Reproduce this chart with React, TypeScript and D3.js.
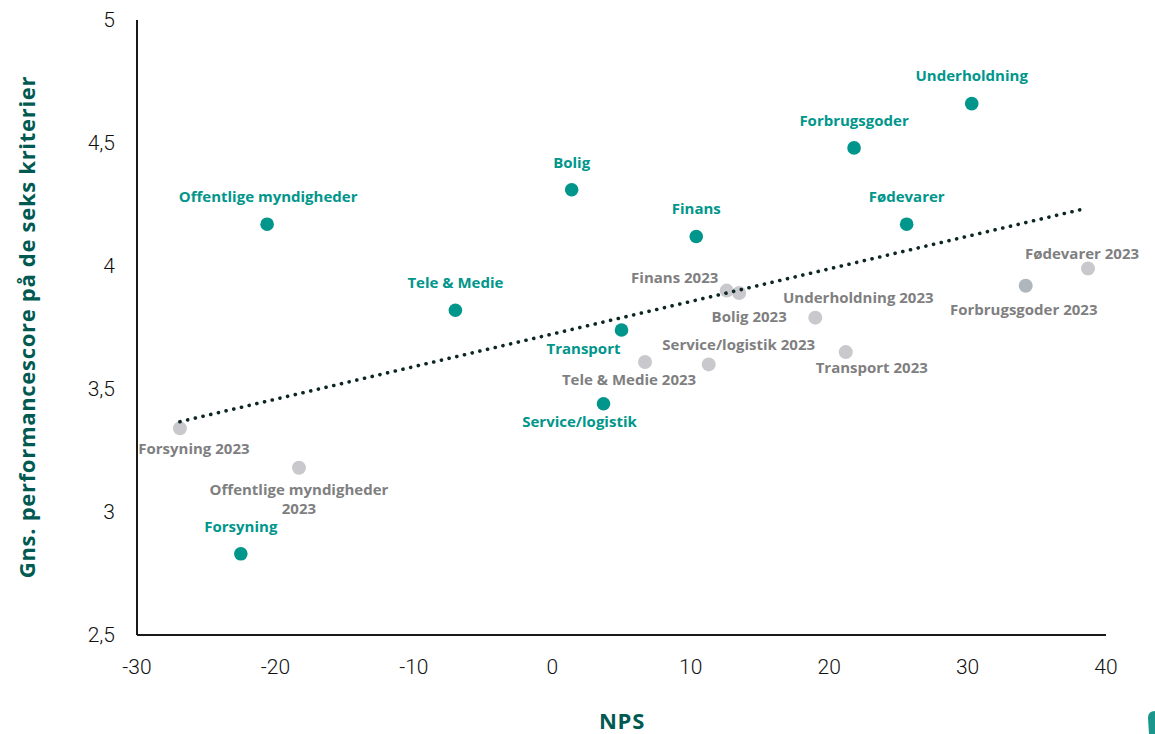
import React from "react";
import * as d3 from "d3";

// NPS vs average performance score, current year and 2023
const sectors = [
  "Offentlige myndigheder",
  "Bolig",
  "Finans",
  "Forbrugsgoder",
  "Underholdning",
  "Fødevarer",
  "Tele & Medie",
  "Transport",
  "Service/logistik",
  "Forsyning",
];
const npsNow = [-20.6, 1.4, 10.4, 21.8, 30.3, 25.6, -7.0, 5.0, 3.7, -22.5];
const scoreNow = [4.17, 4.31, 4.12, 4.48, 4.66, 4.17, 3.82, 3.74, 3.44, 2.83];

const sectors2023 = [
  "Forsyning 2023",
  "Offentlige myndigheder 2023",
  "Tele & Medie 2023",
  "Service/logistik 2023",
  "Finans 2023",
  "Bolig 2023",
  "Underholdning 2023",
  "Transport 2023",
  "Forbrugsgoder 2023",
  "Fødevarer 2023",
];
const nps2023 = [-26.9, -18.3, 6.7, 11.3, 12.6, 13.5, 19.0, 21.2, 34.2, 38.7];
const score2023 = [3.34, 3.18, 3.61, 3.6, 3.9, 3.89, 3.79, 3.65, 3.92, 3.99];

// Linear trend line end points [nps, score]
const trendPoints: [number, number][] = [
  [-26.9, 3.367],
  [38.4, 4.232],
];

const xTicks = [-30, -20, -10, 0, 10, 20, 30, 40];
const yTicks = [2.5, 3, 3.5, 4, 4.5, 5];

// Label placement relative to each dot (dx, dy of the text centre baseline)
const labelOffsetsNow: [number, number][] = [
  [1, -22],
  [0, -22],
  [0, -22],
  [0, -22],
  [0, -23],
  [0, -22],
  [0, -22],
  [-38, 24],
  [-24, 23],
  [0, -22],
];
const labelOffsets2023: [string[], number, number][] = [
  [["Forsyning 2023"], 14, 26],
  [["Offentlige myndigheder", "2023"], 0, 27],
  [["Tele & Medie 2023"], -16, 23],
  [["Service/logistik 2023"], 30, -14],
  [["Finans 2023"], -52, -8],
  [["Bolig 2023"], 10, 29],
  [["Underholdning 2023"], 43, -15],
  [["Transport 2023"], 26, 21],
  [["Forbrugsgoder 2023"], -2, 29],
  [["Fødevarer 2023"], -6, -9],
];

const W = 1155;
const H = 734;
const left = 137;
const right = 1106;
const top = 20;
const bottom = 635;

const TEAL = "#00968b";
const DARK_TEAL = "#005a52";
const GREY_DOT = "#c9c8cd";
const GREY_TEXT = "#7f7f81";
const LABEL_FONT = "'Open Sans', Lato, sans-serif";
const TICK_FONT = "Roboto, 'DejaVu Sans', sans-serif";

export default function App() {
  const x = d3.scaleLinear().domain([-30, 40]).range([left, right]);
  const y = d3.scaleLinear().domain([2.5, 5]).range([bottom, top]);
  const fmt = (v: number) => String(v).replace(".", ",");
  const trendPath = d3
    .line<[number, number]>()
    .x((d) => x(d[0]))
    .y((d) => y(d[1]))(trendPoints);

  return (
    <svg
      width={W}
      height={H}
      style={{ position: "absolute", left: 0, top: 0, background: "#fff" }}
    >
      {/* axes */}
      <line x1={left} x2={left} y1={top} y2={bottom} stroke="#1a1a1a" strokeWidth={2} />
      <line x1={left} x2={right} y1={bottom} y2={bottom} stroke="#1a1a1a" strokeWidth={2} />

      {yTicks.map((t) => (
        <text
          key={"y" + t}
          x={left - 22}
          y={y(t) + 7}
          textAnchor="end"
          fontFamily={TICK_FONT}
          fontWeight={300}
          fontSize={21}
          fill="#111"
        >
          {fmt(t)}
        </text>
      ))}
      {xTicks.map((t) => (
        <text
          key={"x" + t}
          x={x(t)}
          y={bottom + 39}
          textAnchor="middle"
          fontFamily={TICK_FONT}
          fontWeight={300}
          fontSize={21}
          fill="#111"
        >
          {t}
        </text>
      ))}

      {/* axis titles */}
      <text
        x={622}
        y={729}
        textAnchor="middle"
        fontFamily={LABEL_FONT}
        fontWeight={700}
        fontSize={22}
        letterSpacing={0.8}
        fill={DARK_TEAL}
      >
        NPS
      </text>
      <text
        transform={`translate(35, ${327}) rotate(-90)`}
        textAnchor="middle"
        fontFamily={LABEL_FONT}
        fontWeight={700}
        fontSize={22}
        letterSpacing={0.7}
        fill={DARK_TEAL}
      >
        Gns. performancescore på de seks kriterier
      </text>

      {/* 2023 series */}
      {sectors2023.map((s, i) => (
        <circle
          key={s}
          cx={x(nps2023[i])}
          cy={y(score2023[i])}
          r={7}
          fill={s.startsWith("Forbrugsgoder") ? "#b0b7bc" : GREY_DOT}
        />
      ))}

      {/* trend line */}
      <path
        d={trendPath || ""}
        fill="none"
        stroke="#0c2624"
        strokeWidth={3.6}
        strokeLinecap="round"
        strokeDasharray="0.1 7.8"
      />

      {/* current series */}
      {sectors.map((s, i) => (
        <circle key={s} cx={x(npsNow[i])} cy={y(scoreNow[i])} r={6.8} fill={TEAL} />
      ))}

      {/* labels */}
      {sectors.map((s, i) => (
        <text
          key={"l" + s}
          x={x(npsNow[i]) + labelOffsetsNow[i][0]}
          y={y(scoreNow[i]) + labelOffsetsNow[i][1]}
          textAnchor="middle"
          fontFamily={LABEL_FONT}
          fontWeight={700}
          fontSize={15}
          fill={TEAL}
        >
          {s}
        </text>
      ))}
      {sectors2023.map((s, i) => {
        const [lines, dx, dy] = labelOffsets2023[i];
        return (
          <text
            key={"g" + s}
            x={x(nps2023[i]) + dx}
            y={y(score2023[i]) + dy}
            textAnchor="middle"
            fontFamily={LABEL_FONT}
            fontWeight={700}
            fontSize={15}
            fill={GREY_TEXT}
          >
            {lines.map((ln, k) => (
              <tspan key={k} x={x(nps2023[i]) + dx} dy={k === 0 ? 0 : 19}>
                {ln}
              </tspan>
            ))}
          </text>
        );
      })}

      {/* corner mark */}
      <path
        d="M1149 734 L1148 718 Q1148 711 1155 711 L1155 734 Z"
        fill="#1a968c"
      />
    </svg>
  );
}
